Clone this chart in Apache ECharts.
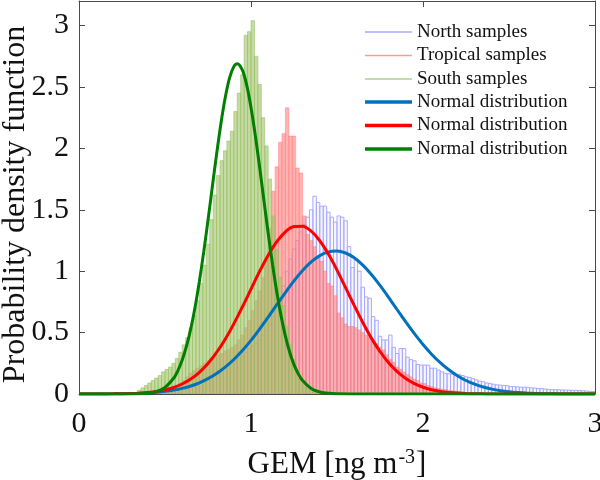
<!DOCTYPE html>
<html>
<head>
<meta charset="utf-8">
<script src="https://cdn.jsdelivr.net/npm/echarts@6/dist/echarts.min.js"></script>
<style>html,body{margin:0;padding:0;background:#fff;}#c{width:600px;height:480px;}</style>
</head>
<body>
<div id="c"></div>
<script>
// ---------- data ----------
const xTicks = [0, 1, 2, 3];
const yTicks = [0, 0.5, 1, 1.5, 2, 2.5, 3];
const binWidth = 0.02;

// North samples histogram (bins start at 0.40, width 0.02)
const northStart = 0.40;
const northValues = [
  0.005,0.01,0.01,0.015,0.02,0.025,0.03,0.035,0.04,0.05,
  0.055,0.06,0.07,0.08,0.09,0.10,0.11,0.12,0.14,0.15,
  0.17,0.19,0.21,0.23,0.25,0.27,0.29,0.31,0.34,0.37,
  0.39,0.41,0.44,0.48,0.52,0.57,0.63,0.70,0.78,0.88,
  1.00,1.10,1.18,1.25,1.32,1.38,1.44,1.50,1.61,1.56,
  1.53,1.53,1.48,1.44,1.40,1.45,1.44,1.41,1.20,1.03,
  1.10,1.00,0.87,0.79,0.78,0.63,0.60,0.47,0.44,0.44,
  0.48,0.38,0.33,0.37,0.37,0.30,0.28,0.27,0.24,0.235,
  0.235,0.235,0.21,0.21,0.195,0.18,0.168,0.165,0.162,0.155,
  0.16,0.15,0.14,0.135,0.125,0.115,0.105,0.10,0.09,0.085,
  0.08,0.075,0.072,0.07,0.068,0.06,0.06,0.058,0.055,0.055,
  0.054,0.05,0.048,0.045,0.044,0.04,0.038,0.036,0.035,0.034,
  0.033,0.032,0.031,0.03,0.029,0.028,0.026,0.025,0.022,0.02
];

// Tropical samples histogram (bins start at 0.30)
const tropicalStart = 0.30;
const tropicalValues = [
  0.005,0.005,0.008,0.01,0.01,0.012,0.015,0.018,0.02,0.025,
  0.03,0.04,0.05,0.07,0.09,0.11,0.14,0.17,0.19,0.21,
  0.23,0.25,0.27,0.29,0.30,0.32,0.33,0.35,0.36,0.38,
  0.40,0.44,0.48,0.54,0.60,0.68,0.76,0.84,0.95,1.10,
  1.35,1.65,1.85,2.05,2.12,2.33,2.10,2.10,1.84,1.80,
  1.45,1.30,1.25,1.20,1.12,1.08,1.00,0.90,0.88,0.80,
  0.66,0.62,0.57,0.55,0.55,0.54,0.52,0.50,0.48,0.46,
  0.43,0.41,0.38,0.36,0.32,0.28,0.26,0.22,0.20,0.18,
  0.16,0.14,0.12,0.11,0.09,0.085,0.07,0.06,0.05,0.045,
  0.04,0.035,0.03,0.027,0.023,0.02,0.015,0.012,0.01,0.01,
  0.008,0.006,0.005,0.005,0.004,0.004,0.003,0.003,0.002,0.002
];

// South samples histogram (bins start at 0.30)
const southStart = 0.30;
const southValues = [
  0.0,0.01,0.03,0.05,0.07,0.09,0.11,0.13,0.15,0.18,
  0.20,0.22,0.25,0.29,0.34,0.40,0.46,0.54,0.64,0.76,
  0.90,1.05,1.22,1.42,1.62,1.78,1.90,1.98,2.06,2.14,
  2.30,2.45,2.60,2.92,2.95,3.04,2.75,2.52,2.25,2.02,
  1.75,1.45,1.18,0.95,0.72,0.55,0.40,0.28,0.19,0.12,
  0.08,0.05,0.03,0.02,0.01,0.005
];

// Fitted normal distribution curves as [x, pdf]
const northFit = [
  [0,0.0001],[0.1,0.0004],[0.2,0.0013],[0.3,0.0036],[0.35,0.0058],[0.4,0.0091],[0.45,0.0141],[0.5,0.0213],
  [0.55,0.0316],[0.6,0.0459],[0.65,0.0654],[0.7,0.0912],[0.75,0.1247],[0.8,0.167],[0.85,0.219],[0.9,0.281],
  [0.95,0.354],[1.0,0.437],[1.05,0.529],[1.1,0.626],[1.15,0.727],[1.2,0.826],[1.25,0.921],[1.3,1.005],
  [1.35,1.075],[1.4,1.127],[1.45,1.157],[1.5,1.165],[1.55,1.148],[1.6,1.109],[1.65,1.049],[1.7,0.973],
  [1.75,0.884],[1.8,0.787],[1.85,0.686],[1.9,0.587],[1.95,0.491],[2.0,0.403],[2.05,0.324],[2.1,0.255],
  [2.15,0.197],[2.2,0.149],[2.25,0.110],[2.3,0.080],[2.35,0.057],[2.4,0.0397],[2.45,0.0271],[2.5,0.0181],
  [2.55,0.0119],[2.6,0.0076],[2.7,0.003],[2.8,0.001],[2.9,0.0003],[3.0,0.0001]
];
const tropicalFit = [
  [0,0.0001],[0.1,0.0003],[0.2,0.0011],[0.3,0.0038],[0.35,0.0069],[0.4,0.012],[0.45,0.0203],[0.5,0.0333],
  [0.55,0.053],[0.6,0.0815],[0.65,0.1218],[0.7,0.1765],[0.75,0.248],[0.8,0.338],[0.85,0.446],[0.9,0.571],
  [0.95,0.709],[1.0,0.854],[1.05,0.998],[1.1,1.130],[1.15,1.241],[1.2,1.321],[1.25,1.364],[1.3,1.366],
  [1.35,1.326],[1.4,1.248],[1.45,1.139],[1.5,1.009],[1.55,0.866],[1.6,0.721],[1.65,0.582],[1.7,0.455],
  [1.75,0.346],[1.8,0.254],[1.85,0.182],[1.9,0.126],[1.95,0.0843],[2.0,0.0549],[2.05,0.0346],[2.1,0.0212],
  [2.15,0.0126],[2.2,0.0072],[2.25,0.004],[2.3,0.0022],[2.35,0.0011],[2.4,0.0006],[2.45,0.0003],[2.5,0.0002],
  [2.6,0.0001],[2.8,0],[3.0,0]
];
const southFit = [
  [0,0],[0.1,0],[0.2,0],[0.3,0.0004],[0.35,0.002],[0.4,0.0066],[0.45,0.0199],[0.5,0.0534],[0.55,0.128],
  [0.575,0.191],[0.6,0.276],[0.625,0.389],[0.65,0.532],[0.675,0.709],[0.7,0.918],[0.725,1.156],[0.75,1.415],
  [0.775,1.686],[0.8,1.953],[0.825,2.201],[0.85,2.412],[0.875,2.572],[0.9,2.666],[0.92,2.69],[0.95,2.637],
  [0.975,2.515],[1.0,2.333],[1.025,2.106],[1.05,1.848],[1.075,1.577],[1.1,1.309],[1.125,1.057],[1.15,0.830],
  [1.175,0.634],[1.2,0.471],[1.225,0.340],[1.25,0.239],[1.275,0.164],[1.3,0.109],[1.35,0.0442],[1.4,0.0161],
  [1.45,0.0052],[1.5,0.0015],[1.6,0.0001],[1.8,0],[2.2,0],[3.0,0]
];

const legendSamples = ['North samples', 'Tropical samples', 'South samples'];
const legendFits = ['Normal distribution|N', 'Normal distribution|T', 'Normal distribution|S'];

// ---------- chart ----------
const FONT = 'Liberation Serif, Times New Roman, serif';
function histData(start, values) {
  return values.map((v, i) => [start + i * binWidth, start + (i + 1) * binWidth, v]);
}
function histRender(fill, stroke) {
  return function (params, api) {
    const a = api.coord([api.value(0), 0]);
    const b = api.coord([api.value(1), api.value(2)]);
    return {
      type: 'rect',
      shape: { x: a[0], y: b[1], width: b[0] - a[0], height: a[1] - b[1] },
      style: { fill: fill, stroke: stroke, lineWidth: 1 }
    };
  };
}
const axisLineStyle = { color: '#4a4a4a', width: 1 };

const chart = echarts.init(document.getElementById('c'), null, { renderer: 'canvas' });
chart.setOption({
  animation: false,
  backgroundColor: '#ffffff',
  grid: { left: 79, right: 5, top: 1, bottom: 86, containLabel: false, outerBoundsMode: 'none' },
  xAxis: [
    {
      type: 'value', min: 0, max: 3, position: 'bottom',
      name: '{a|GEM [ng m}{s|-3}{a|]}', nameLocation: 'middle', nameGap: 54, nameMoveOverlap: false,
      nameTextStyle: {
        rich: {
          a: { fontFamily: FONT, fontSize: 31, color: '#111', lineHeight: 34 },
          s: { fontFamily: FONT, fontSize: 20, color: '#111', verticalAlign: 'top', lineHeight: 20, padding: [0, 1, 0, 1] }
        }
      },
      axisLine: { show: true, onZero: false, lineStyle: axisLineStyle },
      axisTick: { show: true, inside: true, length: 6, customValues: xTicks, lineStyle: axisLineStyle },
      axisLabel: { customValues: xTicks, fontFamily: FONT, fontSize: 30, color: '#111', margin: 15 },
      splitLine: { show: false }
    },
    {
      type: 'value', min: 0, max: 3, position: 'top',
      axisLine: { show: true, onZero: false, lineStyle: axisLineStyle },
      axisTick: { show: true, inside: true, length: 6, customValues: xTicks, lineStyle: axisLineStyle },
      axisLabel: { show: false },
      splitLine: { show: false }
    }
  ],
  yAxis: [
    {
      type: 'value', min: 0, max: 3.2, position: 'left',
      name: 'Probability density function', nameLocation: 'middle', nameGap: 46, nameMoveOverlap: false,
      nameTextStyle: { fontFamily: FONT, fontSize: 32, color: '#111', lineHeight: 34, padding: [0, 14, 0, 0] },
      axisLine: { show: true, onZero: false, lineStyle: axisLineStyle },
      axisTick: { show: true, inside: true, length: 6, customValues: yTicks, lineStyle: axisLineStyle },
      axisLabel: { customValues: yTicks, fontFamily: FONT, fontSize: 30, color: '#111', margin: 10 },
      splitLine: { show: false }
    },
    {
      type: 'value', min: 0, max: 3.2, position: 'right',
      axisLine: { show: true, onZero: false, lineStyle: axisLineStyle },
      axisTick: { show: true, inside: true, length: 6, customValues: yTicks, lineStyle: axisLineStyle },
      axisLabel: { show: false },
      splitLine: { show: false }
    }
  ],
  legend: [
    {
      orient: 'vertical', left: 365, top: 22, padding: 0, itemGap: 3.5,
      itemWidth: 47, itemHeight: 1.5, icon: 'rect',
      textStyle: { fontFamily: FONT, fontSize: 19, color: '#111', lineHeight: 20 },
      data: [
        { name: legendSamples[0], itemStyle: { color: '#a9a9ff' } },
        { name: legendSamples[1], itemStyle: { color: '#ff9999' } },
        { name: legendSamples[2], itemStyle: { color: '#b0d08a' } }
      ]
    },
    {
      orient: 'vertical', left: 365, top: 92, padding: 0, itemGap: 3.5,
      itemWidth: 47, itemHeight: 3.5, icon: 'rect',
      formatter: function (n) { return n.split('|')[0]; },
      textStyle: { fontFamily: FONT, fontSize: 19, color: '#111', lineHeight: 20 },
      data: [
        { name: legendFits[0], itemStyle: { color: '#0072BD' } },
        { name: legendFits[1], itemStyle: { color: '#FF0000' } },
        { name: legendFits[2], itemStyle: { color: '#007F00' } }
      ]
    }
  ],
  series: [
    {
      type: 'custom', name: legendSamples[0], xAxisIndex: 0, yAxisIndex: 0,
      itemStyle: { color: '#a9a9ff' },
      renderItem: histRender('rgba(225,225,255,0.25)', '#aaaaff'),
      data: histData(northStart, northValues), clip: true
    },
    {
      type: 'custom', name: legendSamples[1], xAxisIndex: 0, yAxisIndex: 0,
      itemStyle: { color: '#ff9999' },
      renderItem: histRender('rgba(255,128,128,0.6)', 'rgba(255,120,120,0.45)'),
      data: histData(tropicalStart, tropicalValues), clip: true
    },
    {
      type: 'custom', name: legendSamples[2], xAxisIndex: 0, yAxisIndex: 0,
      itemStyle: { color: '#b0d08a' },
      renderItem: histRender('rgba(158,195,102,0.6)', 'rgba(150,190,95,0.55)'),
      data: histData(southStart, southValues), clip: true
    },
    {
      type: 'line', name: legendFits[0], data: northFit, smooth: 0.3,
      showSymbol: false, lineStyle: { color: '#0072BD', width: 3 }, itemStyle: { color: '#0072BD' }, z: 3
    },
    {
      type: 'line', name: legendFits[1], data: tropicalFit, smooth: 0.3,
      showSymbol: false, lineStyle: { color: '#FF0000', width: 3 }, itemStyle: { color: '#FF0000' }, z: 4
    },
    {
      type: 'line', name: legendFits[2], data: southFit, smooth: 0.3,
      showSymbol: false, lineStyle: { color: '#007F00', width: 3 }, itemStyle: { color: '#007F00' }, z: 5
    }
  ]
});
</script>
</body>
</html>
